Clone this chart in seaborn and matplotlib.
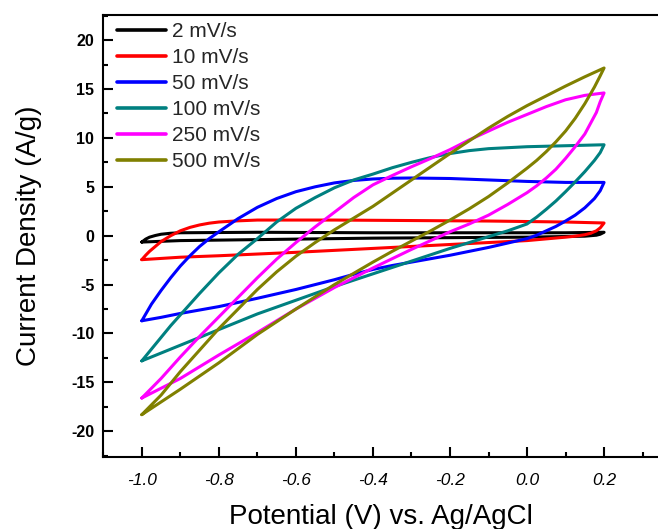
import matplotlib
matplotlib.use("Agg")
import matplotlib.pyplot as plt
import numpy as np
import pandas as pd
import seaborn as sns
from matplotlib.ticker import MultipleLocator

# ---------------- data ----------------
scan_rates = ["2 mV/s", "10 mV/s", "50 mV/s", "100 mV/s", "250 mV/s", "500 mV/s"]
colors = ["#000000", "#ff0000", "#0000ff", "#008080", "#ff00ff", "#808000"]

# 2 mV/s  (forward scan then reverse scan)
E_2 = [-1.0, -0.99, -0.98, -0.965, -0.95, -0.925, -0.9, -0.7, -0.4, -0.1, 0.1, 0.2,
       0.19, 0.18, 0.15, 0.0, -0.2, -0.4, -0.6, -0.8, -0.9, -1.0]
I_2 = [-0.65, -0.35, -0.15, 0.02, 0.15, 0.25, 0.3, 0.35, 0.3, 0.3, 0.3, 0.35,
       0.15, 0.05, -0.05, -0.15, -0.2, -0.25, -0.35, -0.45, -0.5, -0.65]

# 10 mV/s
E_10 = [-1.0, -0.99, -0.98, -0.965, -0.95, -0.925, -0.9, -0.875, -0.85, -0.825, -0.8, -0.75,
        -0.7, -0.5, -0.3, -0.1, 0.1, 0.2,
        0.19, 0.18, 0.165, 0.15, 0.125, 0.1, 0.0, -0.2, -0.4, -0.6, -0.8, -0.9, -1.0]
I_10 = [-2.45, -2.0, -1.6, -1.1, -0.6, 0.0, 0.5, 0.85, 1.1, 1.28, 1.4, 1.52,
        1.6, 1.6, 1.55, 1.5, 1.4, 1.3,
        0.8, 0.5, 0.25, 0.1, -0.05, -0.15, -0.5, -0.9, -1.3, -1.7, -2.05, -2.2, -2.45]

# 50 mV/s
E_50 = [-1.0, -0.975, -0.95, -0.925, -0.9, -0.875, -0.85, -0.825, -0.8, -0.75, -0.7, -0.65,
        -0.6, -0.55, -0.5, -0.45, -0.4, -0.35, -0.3, -0.2, -0.1, 0.0, 0.1, 0.2,
        0.19, 0.175, 0.15, 0.125, 0.1, 0.075, 0.05, 0.025, 0.0, -0.05, -0.1, -0.15, -0.2,
        -0.25, -0.3, -0.35, -0.4, -0.45, -0.5, -0.6, -0.7, -0.8, -0.9, -0.95, -1.0]
I_50 = [-8.7, -7.0, -5.6, -4.3, -3.1, -2.05, -1.1, -0.3, 0.4, 1.75, 2.9, 3.8,
        4.5, 5.0, 5.4, 5.65, 5.8, 5.88, 5.9, 5.85, 5.7, 5.55, 5.45, 5.45,
        4.6, 3.8, 2.85, 2.1, 1.5, 0.95, 0.5, 0.05, -0.3, -0.75, -1.2, -1.6, -2.0,
        -2.35, -2.7, -3.05, -3.45, -3.95, -4.5, -5.5, -6.4, -7.25, -7.95, -8.35, -8.7]

# 100 mV/s
E_100 = [-1.0, -0.975, -0.95, -0.925, -0.9, -0.85, -0.8, -0.75, -0.7, -0.65, -0.6, -0.55,
         -0.5, -0.45, -0.4, -0.35, -0.3, -0.25, -0.2, -0.15, -0.1, -0.05, 0.0, 0.1, 0.2,
         0.19, 0.175, 0.15, 0.125, 0.1, 0.075, 0.05, 0.025, 0.0, -0.05, -0.1, -0.15, -0.2,
         -0.3, -0.4, -0.5, -0.6, -0.7, -0.8, -0.9, -1.0]
I_100 = [-12.8, -11.6, -10.4, -9.2, -8.1, -5.9, -3.8, -1.9, -0.3, 1.4, 2.8, 3.9,
         4.9, 5.7, 6.3, 6.95, 7.5, 8.0, 8.4, 8.7, 8.9, 9.0, 9.1, 9.2, 9.3,
         8.5, 7.7, 6.55, 5.5, 4.5, 3.55, 2.7, 1.9, 1.2, 0.5, -0.1, -0.7, -1.3,
         -2.6, -3.9, -5.2, -6.6, -8.0, -9.6, -11.2, -12.8]

# 250 mV/s
E_250 = [-1.0, -0.975, -0.95, -0.925, -0.9, -0.85, -0.8, -0.75, -0.7, -0.65, -0.6, -0.55,
         -0.5, -0.45, -0.4, -0.35, -0.3, -0.25, -0.2, -0.15, -0.1, -0.05, 0.0, 0.05, 0.1,
         0.15, 0.2,
         0.19, 0.18, 0.165, 0.15, 0.125, 0.1, 0.075, 0.05, 0.025, 0.0, -0.05, -0.1, -0.15,
         -0.2, -0.25, -0.3, -0.35, -0.4, -0.5, -0.6, -0.7, -0.8, -0.9, -1.0]
I_250 = [-16.6, -15.6, -14.6, -13.5, -12.4, -10.3, -8.3, -6.3, -4.3, -2.4, -0.7, 0.9,
         2.4, 3.9, 5.2, 6.15, 7.05, 7.9, 8.8, 9.8, 10.7, 11.6, 12.4, 13.2, 13.9,
         14.35, 14.6,
         13.7, 12.6, 11.5, 10.4, 9.1, 7.9, 6.8, 5.9, 5.1, 4.4, 3.2, 2.1, 1.2,
         0.4, -0.5, -1.4, -2.35, -3.3, -5.3, -7.5, -9.9, -12.2, -14.6, -16.6]

# 500 mV/s
E_500 = [-1.0, -0.975, -0.95, -0.925, -0.9, -0.85, -0.8, -0.75, -0.7, -0.65, -0.6, -0.55,
         -0.5, -0.45, -0.4, -0.35, -0.3, -0.25, -0.2, -0.15, -0.1, -0.05, 0.0, 0.05, 0.1,
         0.15, 0.2,
         0.19, 0.175, 0.15, 0.125, 0.1, 0.075, 0.05, 0.025, 0.0, -0.05, -0.1, -0.15, -0.2,
         -0.25, -0.3, -0.35, -0.4, -0.5, -0.6, -0.7, -0.8, -0.9, -1.0]
I_500 = [-18.3, -17.3, -16.3, -15.1, -13.9, -11.7, -9.5, -7.5, -5.5, -3.7, -2.1, -0.7,
         0.6, 1.8, 3.0, 4.35, 5.7, 7.05, 8.4, 9.7, 11.0, 12.2, 13.3, 14.3, 15.3,
         16.25, 17.15,
         16.35, 15.2, 13.5, 12.0, 10.7, 9.6, 8.6, 7.7, 6.9, 5.4, 4.0, 2.75, 1.6,
         0.5, -0.55, -1.6, -2.7, -5.0, -7.5, -10.1, -13.0, -15.7, -18.3]

x_ticks = [-1.0, -0.8, -0.6, -0.4, -0.2, 0.0, 0.2]
x_tick_labels = ["-1.0", "-0.8", "-0.6", "-0.4", "-0.2", "0.0", "0.2"]
y_ticks = [-20, -15, -10, -5, 0, 5, 10, 15, 20]
y_tick_labels = ["-20", "-15", "-10", "-5", "0", "5", "10", "15", "20"]

# ---------------- build long table ----------------
frames = []
for lab, E, I in zip(scan_rates,
                     [E_2, E_10, E_50, E_100, E_250, E_500],
                     [I_2, I_10, I_50, I_100, I_250, I_500]):
    frames.append(pd.DataFrame({"Potential": E, "Current": I, "Scan rate": lab}))
df = pd.concat(frames, ignore_index=True)

# ---------------- plotting ----------------
sns.set_theme(style="ticks")
plt.rcParams["font.family"] = ["Liberation Sans", "DejaVu Sans"]
plt.rcParams["axes.unicode_minus"] = False

fig = plt.figure(figsize=(6.58, 5.29), dpi=100)
ax = fig.add_axes([103.3 / 658, 72.3 / 529, 554.7 / 658, 442 / 529])

sns.lineplot(data=df, x="Potential", y="Current", hue="Scan rate",
             hue_order=scan_rates, palette=colors, sort=False, estimator=None,
             linewidth=2.2, ax=ax)
for ln in ax.lines:
    ln.set_solid_joinstyle("round")

ax.set_xlim(-1.1, 0.34)
ax.set_ylim(-22.6, 22.6)

ax.set_xticks(x_ticks, labels=x_tick_labels, fontsize=12.5, fontstyle="italic")
ax.set_yticks(y_ticks, labels=y_tick_labels, fontsize=11.5, fontweight="bold")
ax.xaxis.set_minor_locator(MultipleLocator(0.1))
ax.yaxis.set_minor_locator(MultipleLocator(2.5))

ax.tick_params(which="both", direction="in", width=1.5, color="black",
               top=False, right=False, labelcolor="black")
ax.tick_params(which="major", length=7)
ax.tick_params(which="minor", length=3.5)
ax.tick_params(axis="y", which="major", pad=6.5)
ax.tick_params(axis="x", which="major", pad=11.5)

for side in ["top", "left", "bottom"]:
    ax.spines[side].set_linewidth(1.5)
    ax.spines[side].set_color("black")
ax.spines["right"].set_visible(False)

ax.set_xlabel("Potential (V) vs. Ag/AgCl", fontsize=20, color="black")
ax.set_ylabel("Current Density (A/g)", fontsize=20, color="black")
ax.xaxis.set_label_coords(0.5, -0.107)
ax.yaxis.set_label_coords(-0.111, 0.5)

handles, labels = ax.get_legend_handles_labels()
leg = ax.legend(handles, labels, loc="upper left", bbox_to_anchor=(0.024, 0.9835),
                frameon=False, fontsize=15, handlelength=2.35, handletextpad=0.3,
                labelspacing=0.34, borderpad=0, borderaxespad=0)
for h in leg.get_lines():
    h.set_linewidth(2.6)

fig.savefig("out.png", dpi=100)
